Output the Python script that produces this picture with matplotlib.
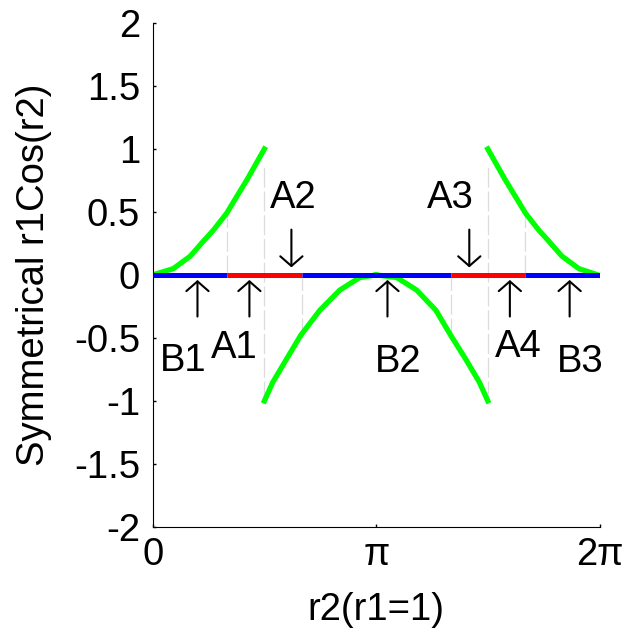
import numpy as np
import matplotlib
matplotlib.use('Agg')
import matplotlib.pyplot as plt

plt.rcParams['font.family'] = ['Liberation Sans', 'DejaVu Sans']

# green curve in four pieces
seg1_x = [0.0, 0.29, 0.53, 0.70, 0.86, 1.04, 1.19, 1.33, 1.44, 1.57]
seg1_y = [0.0, 0.05, 0.15, 0.26, 0.36, 0.49, 0.63, 0.76, 0.87, 1.0]
seg2_x = [1.57, 1.69, 1.89, 2.08, 2.35, 2.63, 2.91, 3.14]
seg2_y = [-1.0, -0.85, -0.66, -0.48, -0.28, -0.12, -0.02, 0.0]
seg3_x = [3.14, 3.43, 3.71, 3.98, 4.19, 4.39, 4.59, 4.71]
seg3_y = [0.0, -0.02, -0.12, -0.28, -0.48, -0.66, -0.85, -1.0]
seg4_x = [4.71, 4.84, 4.95, 5.09, 5.24, 5.42, 5.58, 5.75, 5.99, 6.26]
seg4_y = [1.0, 0.87, 0.76, 0.63, 0.49, 0.36, 0.26, 0.15, 0.05, 0.0]

# coloured bands on the zero line
band_edges = [0, np.pi/3, 2*np.pi/3, 4*np.pi/3, 5*np.pi/3, 2*np.pi]
band_colors = ['#0000ff', '#ff0000', '#0000ff', '#ff0000', '#0000ff']

# faint guide lines (x, ymin, ymax)
guide_x = [np.pi/3, np.pi/2, 2*np.pi/3, 4*np.pi/3, 3*np.pi/2, 5*np.pi/3]
guide_lo = [0.0, -1.0, -0.5, -0.5, -1.0, 0.0]
guide_hi = [0.5, 0.87, 0.0, 0.0, 0.87, 0.5]

# arrow labels: name, arrow x, points up?, label x, label y
labels = ['B1', 'A1', 'A2', 'B2', 'A3', 'A4', 'B3']
arrow_x = [0.63, 1.36, 1.95, 3.30, 4.45, 5.02, 5.86]
arrow_up = [True, True, False, True, False, True, True]
label_x = [0.43, 1.15, 1.97, 3.45, 4.18, 5.14, 6.01]
label_y = [-0.68, -0.58, 0.61, -0.69, 0.61, -0.57, -0.69]

FS = 27.5

fig = plt.figure(figsize=(6.36, 6.31), dpi=100)
ax = fig.add_axes([0.240, 0.165, 0.703, 0.7985])

for gx, lo, hi in zip(guide_x, guide_lo, guide_hi):
    ax.plot([gx, gx], [lo, hi], color='#dcdcdc', lw=0.9, ls=(0, (16, 3)), zorder=1)

for sx, sy in [(seg1_x, seg1_y), (seg2_x, seg2_y), (seg3_x, seg3_y), (seg4_x, seg4_y)]:
    ax.plot(sx, sy, color='#00ff00', lw=3.8, zorder=2)

for i in range(len(band_colors)):
    ax.plot([band_edges[i], band_edges[i+1]], [0, 0], color=band_colors[i],
            lw=3.6, solid_capstyle='butt', zorder=3)

for name, ax_x, up, lx, ly in zip(labels, arrow_x, arrow_up, label_x, label_y):
    if up:
        head, tail = -0.04, -0.33
    else:
        head, tail = 0.06, 0.36
    ax.annotate('', xy=(ax_x, head), xytext=(ax_x, tail),
                arrowprops=dict(arrowstyle='->,head_length=0.7,head_width=0.8',
                                lw=1.5, color='black', shrinkA=0, shrinkB=0),
                zorder=4)
    ax.text(lx, ly, name, fontsize=FS, ha='center', va='center')

ax.set_xlim(0, 2*np.pi)
ax.set_ylim(-2, 2)
ax.set_xticks([0, np.pi, 2*np.pi])
ax.set_xticklabels(['0', 'π', '2π'])
yt = np.arange(-2, 2.01, 0.5)
ax.set_yticks(yt)
ax.set_yticklabels(['%g' % v for v in yt])
ax.tick_params(direction='in', length=2.5, labelsize=FS, width=1)
ax.tick_params(axis='x', pad=7.5)
ax.tick_params(axis='y', pad=9)
ax.spines['top'].set_visible(False)
ax.spines['right'].set_visible(False)
ax.set_xlabel('r2(r1=1)', fontsize=FS, va='center')
ax.set_ylabel('Symmetrical r1Cos(r2)', fontsize=FS, va='center')
ax.xaxis.set_label_coords(0.5, -0.1647)
ax.yaxis.set_label_coords(-0.2654, 0.5)

fig.savefig('out.png', dpi=100)
